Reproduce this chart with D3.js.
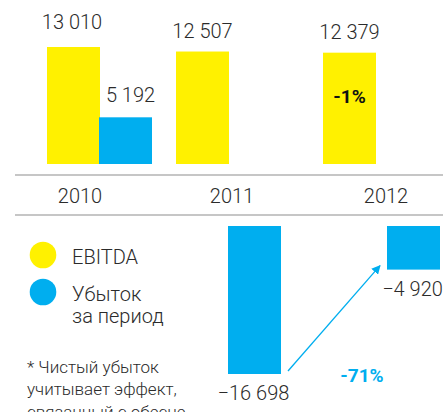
<!DOCTYPE html>
<html>
<head>
<meta charset="utf-8">
<script src="https://cdn.jsdelivr.net/npm/d3@7/dist/d3.min.js"></script>
<style>
    body { margin: 0; background: #fff; }
    svg { display: block; font-family: Roboto, "DejaVu Sans", sans-serif; }
</style>
</head>
<body>
<svg class="chart" width="445" height="412"></svg>
<script>

const years = ['2010', '2011', '2012'];
const ebitda = [13010, 12507, 12379];
const loss = [5192, -16698, -4920];

const ebitdaLabels = ['13 010', '12 507', '12 379'];
const lossLabels = ['5 192', '\u221216 698', '\u22124 920'];

const legendItems = ['EBITDA', 'Убыток|за период'];
const footnote = ['* Чистый убыток', 'учитывает эффект,', 'связанный с обесце-'];

const colors = { ebitda: '#fff100', loss: '#00aeef', text: '#2b2b2b', line: '#b3b3b3' };

const main = {};

init();

function init() {

    main.svg = d3.select('.chart');

    const barW = 53;

    // bar positions per year (left edge)
    const xEbitda = d3.scaleOrdinal().domain(years).range([47, 176, 323]);
    const xLoss = d3.scaleOrdinal().domain(years).range([99, 228, 387]);
    const xYear = d3.scaleOrdinal().domain(years).range([80, 232, 386]);

    // upper panel: positive values, lower panel: negative values
    const yPos = d3.scaleLinear().domain([0, 13010]).range([164, 47]);
    const yNeg = d3.scaleLinear().domain([0, -16698]).range([226, 374]);

    const svg = main.svg;

    // separator lines
    svg.selectAll('line.sep')
        .data([175, 215])
        .join('line')
        .attr('class', 'sep')
        .attr('x1', 15).attr('x2', 443)
        .attr('y1', d => d).attr('y2', d => d)
        .attr('stroke', colors.line)
        .attr('stroke-width', 1.5);

    const eData = years.map((y, i) => ({ year: y, v: ebitda[i], label: ebitdaLabels[i] }));
    const lData = years.map((y, i) => ({ year: y, v: loss[i], label: lossLabels[i] }));

    // EBITDA bars
    svg.selectAll('rect.ebitda')
        .data(eData)
        .join('rect')
        .attr('class', 'ebitda')
        .attr('x', d => xEbitda(d.year))
        .attr('width', barW)
        .attr('y', d => yPos(d.v))
        .attr('height', d => yPos(0) - yPos(d.v))
        .attr('fill', colors.ebitda);

    // loss bars (positive -> upper panel, negative -> lower panel)
    svg.selectAll('rect.loss')
        .data(lData)
        .join('rect')
        .attr('class', 'loss')
        .attr('x', d => xLoss(d.year))
        .attr('width', barW)
        .attr('y', d => d.v >= 0 ? yPos(d.v) : yNeg(0))
        .attr('height', d => d.v >= 0 ? yPos(0) - yPos(d.v) : yNeg(d.v) - yNeg(0))
        .attr('fill', colors.loss);

    // value labels
    svg.selectAll('text.elabel')
        .data(eData)
        .join('text')
        .attr('class', 'elabel')
        .attr('x', d => xEbitda(d.year) + barW / 2 - (d.year == '2010' ? 1.5 : 0))
        .attr('y', d => yPos(d.v) - (d.year == '2010' ? 18 : 14))
        .attr('text-anchor', 'middle')
        .attr('font-size', 20)
        .attr('font-weight', 300)
        .attr('fill', colors.text)
        .text(d => d.label);

    svg.selectAll('text.llabel')
        .data(lData)
        .join('text')
        .attr('class', 'llabel')
        .attr('x', d => xLoss(d.year) + barW / 2 + (d.v >= 0 ? 5 : -1))
        .attr('y', d => d.v >= 0 ? yPos(d.v) - 15 : yNeg(d.v) + 26)
        .attr('text-anchor', 'middle')
        .attr('font-size', 20)
        .attr('font-weight', 300)
        .attr('fill', colors.text)
        .text(d => d.label);

    // year labels
    svg.selectAll('text.year')
        .data(years)
        .join('text')
        .attr('class', 'year')
        .attr('x', d => xYear(d))
        .attr('y', 203)
        .attr('text-anchor', 'middle')
        .attr('font-size', 20)
        .attr('font-weight', 300)
        .attr('fill', colors.text)
        .text(d => d);

    // -1% on 2012 EBITDA bar
    svg.append('text')
        .attr('x', xEbitda('2012') + barW / 2)
        .attr('y', 102.5)
        .attr('text-anchor', 'middle')
        .attr('font-size', 19)
        .attr('font-weight', 'bold')
        .attr('fill', '#111')
        .text('-1%');

    // arrow 2011 -> 2012 loss
    svg.append('defs').append('marker')
        .attr('id', 'arrow')
        .attr('viewBox', '0 0 10 10')
        .attr('refX', 9).attr('refY', 5)
        .attr('markerWidth', 9).attr('markerHeight', 9)
        .attr('markerUnits', 'userSpaceOnUse')
        .attr('orient', 'auto')
        .append('path')
        .attr('d', 'M0,0 L10,5 L0,10 Z')
        .attr('fill', colors.loss);

    svg.append('line')
        .attr('x1', xLoss('2011') + barW + 7)
        .attr('y1', yNeg(loss[1]) - 3)
        .attr('x2', xLoss('2012') - 7)
        .attr('y2', yNeg(loss[2]) - 4)
        .attr('stroke', colors.loss)
        .attr('stroke-width', 1.3)
        .attr('marker-end', 'url(#arrow)');

    svg.append('text')
        .attr('x', 362)
        .attr('y', 382)
        .attr('text-anchor', 'middle')
        .attr('font-size', 19)
        .attr('font-weight', 'bold')
        .attr('fill', colors.loss)
        .text('-71%');

    // legend
    const legend = svg.append('g').attr('class', 'legend');

    legend.selectAll('circle')
        .data([colors.ebitda, colors.loss])
        .join('circle')
        .attr('cx', 43)
        .attr('cy', (d, i) => 255 + i * 37)
        .attr('r', 13.3)
        .attr('fill', d => d);

    legend.selectAll('text')
        .data(legendItems)
        .join('text')
        .attr('x', 72)
        .attr('y', (d, i) => 264 + i * 37)
        .attr('font-size', 20)
        .attr('font-weight', 300)
        .attr('fill', colors.text)
        .each(function(d) {
            d3.select(this).selectAll('tspan')
                .data(d.split('|'))
                .join('tspan')
                .attr('x', 72)
                .attr('dy', (t, j) => j == 0 ? 0 : 22)
                .text(t => t);
        });

    // footnote (last line is cut by the bottom edge, as in the original)
    svg.selectAll('text.note')
        .data(footnote)
        .join('text')
        .attr('class', 'note')
        .attr('x', 27)
        .attr('y', (d, i) => 373 + i * 22.3)
        .attr('font-size', 17)
        .attr('font-weight', 300)
        .attr('fill', colors.text)
        .text(d => d);

}

</script>
</body>
</html>
